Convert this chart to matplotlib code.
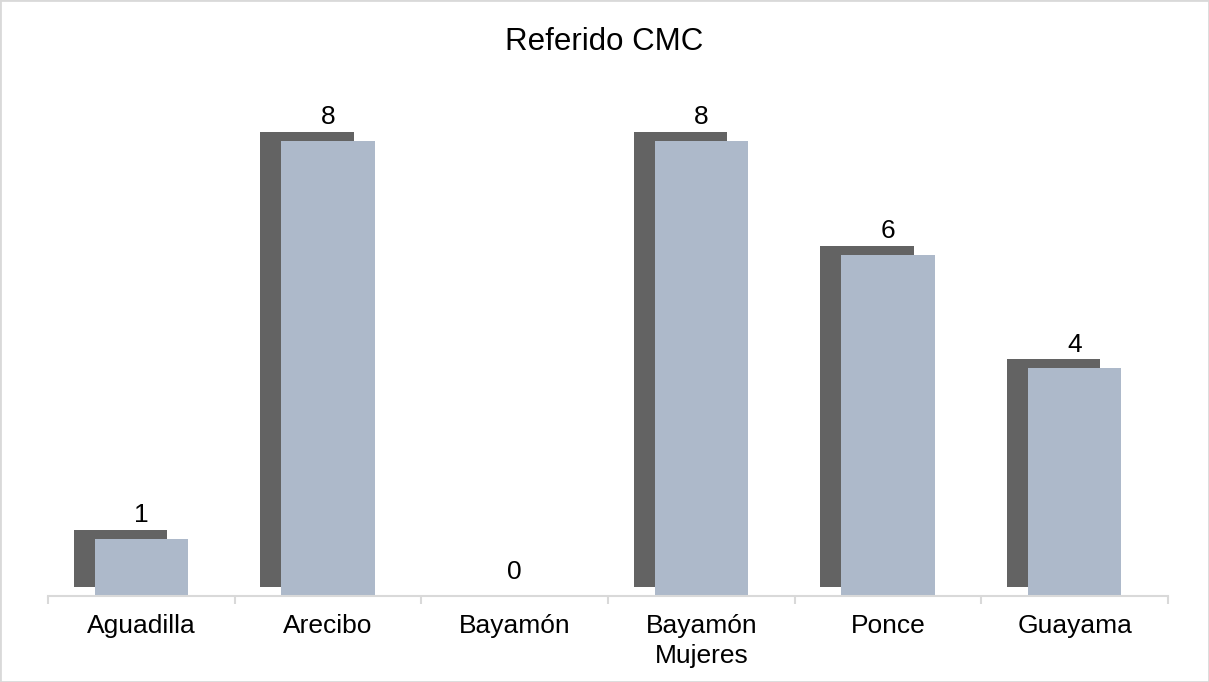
import matplotlib
matplotlib.use("Agg")
from matplotlib import pyplot as plt
from matplotlib.patches import Rectangle
import numpy as np

plt.rcParams['font.family'] = ['Liberation Sans', 'DejaVu Sans']

categories = ['Aguadilla', 'Arecibo', 'Bayamón', 'Bayamón\nMujeres', 'Ponce', 'Guayama']
values = [1, 8, 0, 8, 6, 4]
title = 'Referido CMC'

bar_color = '#adb9ca'
shadow_color = '#636363'
axis_color = '#d9d9d9'

fig = plt.figure(figsize=(12.09, 6.82), dpi=100)
ax = fig.add_axes([48/1209, 86/682, 1120/1209, 0.751])

x = np.arange(len(categories))
# shadow bars, shifted left and up
ax.bar(x - 0.112, values, width=0.5, bottom=0.158, color=shadow_color, zorder=1)
ax.bar(x, values, width=0.5, color=bar_color, zorder=2)

for xi, v in zip(x, values):
    ax.annotate(str(v), (xi, v), xytext=(0, 12), textcoords='offset points',
                ha='center', va='baseline', fontsize=19, color='black')

ax.set_xlim(-0.5, len(categories) - 0.5)
ax.set_ylim(0, 9)
ax.set_xticks(x)
ax.set_xticklabels(categories, fontsize=19, linespacing=1.3)
ax.set_xticks(np.arange(-0.5, len(categories)), minor=True)
ax.tick_params(axis='x', which='major', length=0, pad=13)
ax.tick_params(axis='x', which='minor', length=6, width=1.5, color=axis_color)
ax.set_yticks([])
for s in ['top', 'right', 'left']:
    ax.spines[s].set_visible(False)
ax.spines['bottom'].set_color(axis_color)
ax.spines['bottom'].set_linewidth(1.5)

fig.text(0.5, 1 - 42/682, title, ha='center', va='center', fontsize=22.5)

fig.patches.append(Rectangle((0, 0), 1, 1, transform=fig.transFigure,
                             fill=False, edgecolor=axis_color, linewidth=2))

fig.savefig('out.png', dpi=100)
